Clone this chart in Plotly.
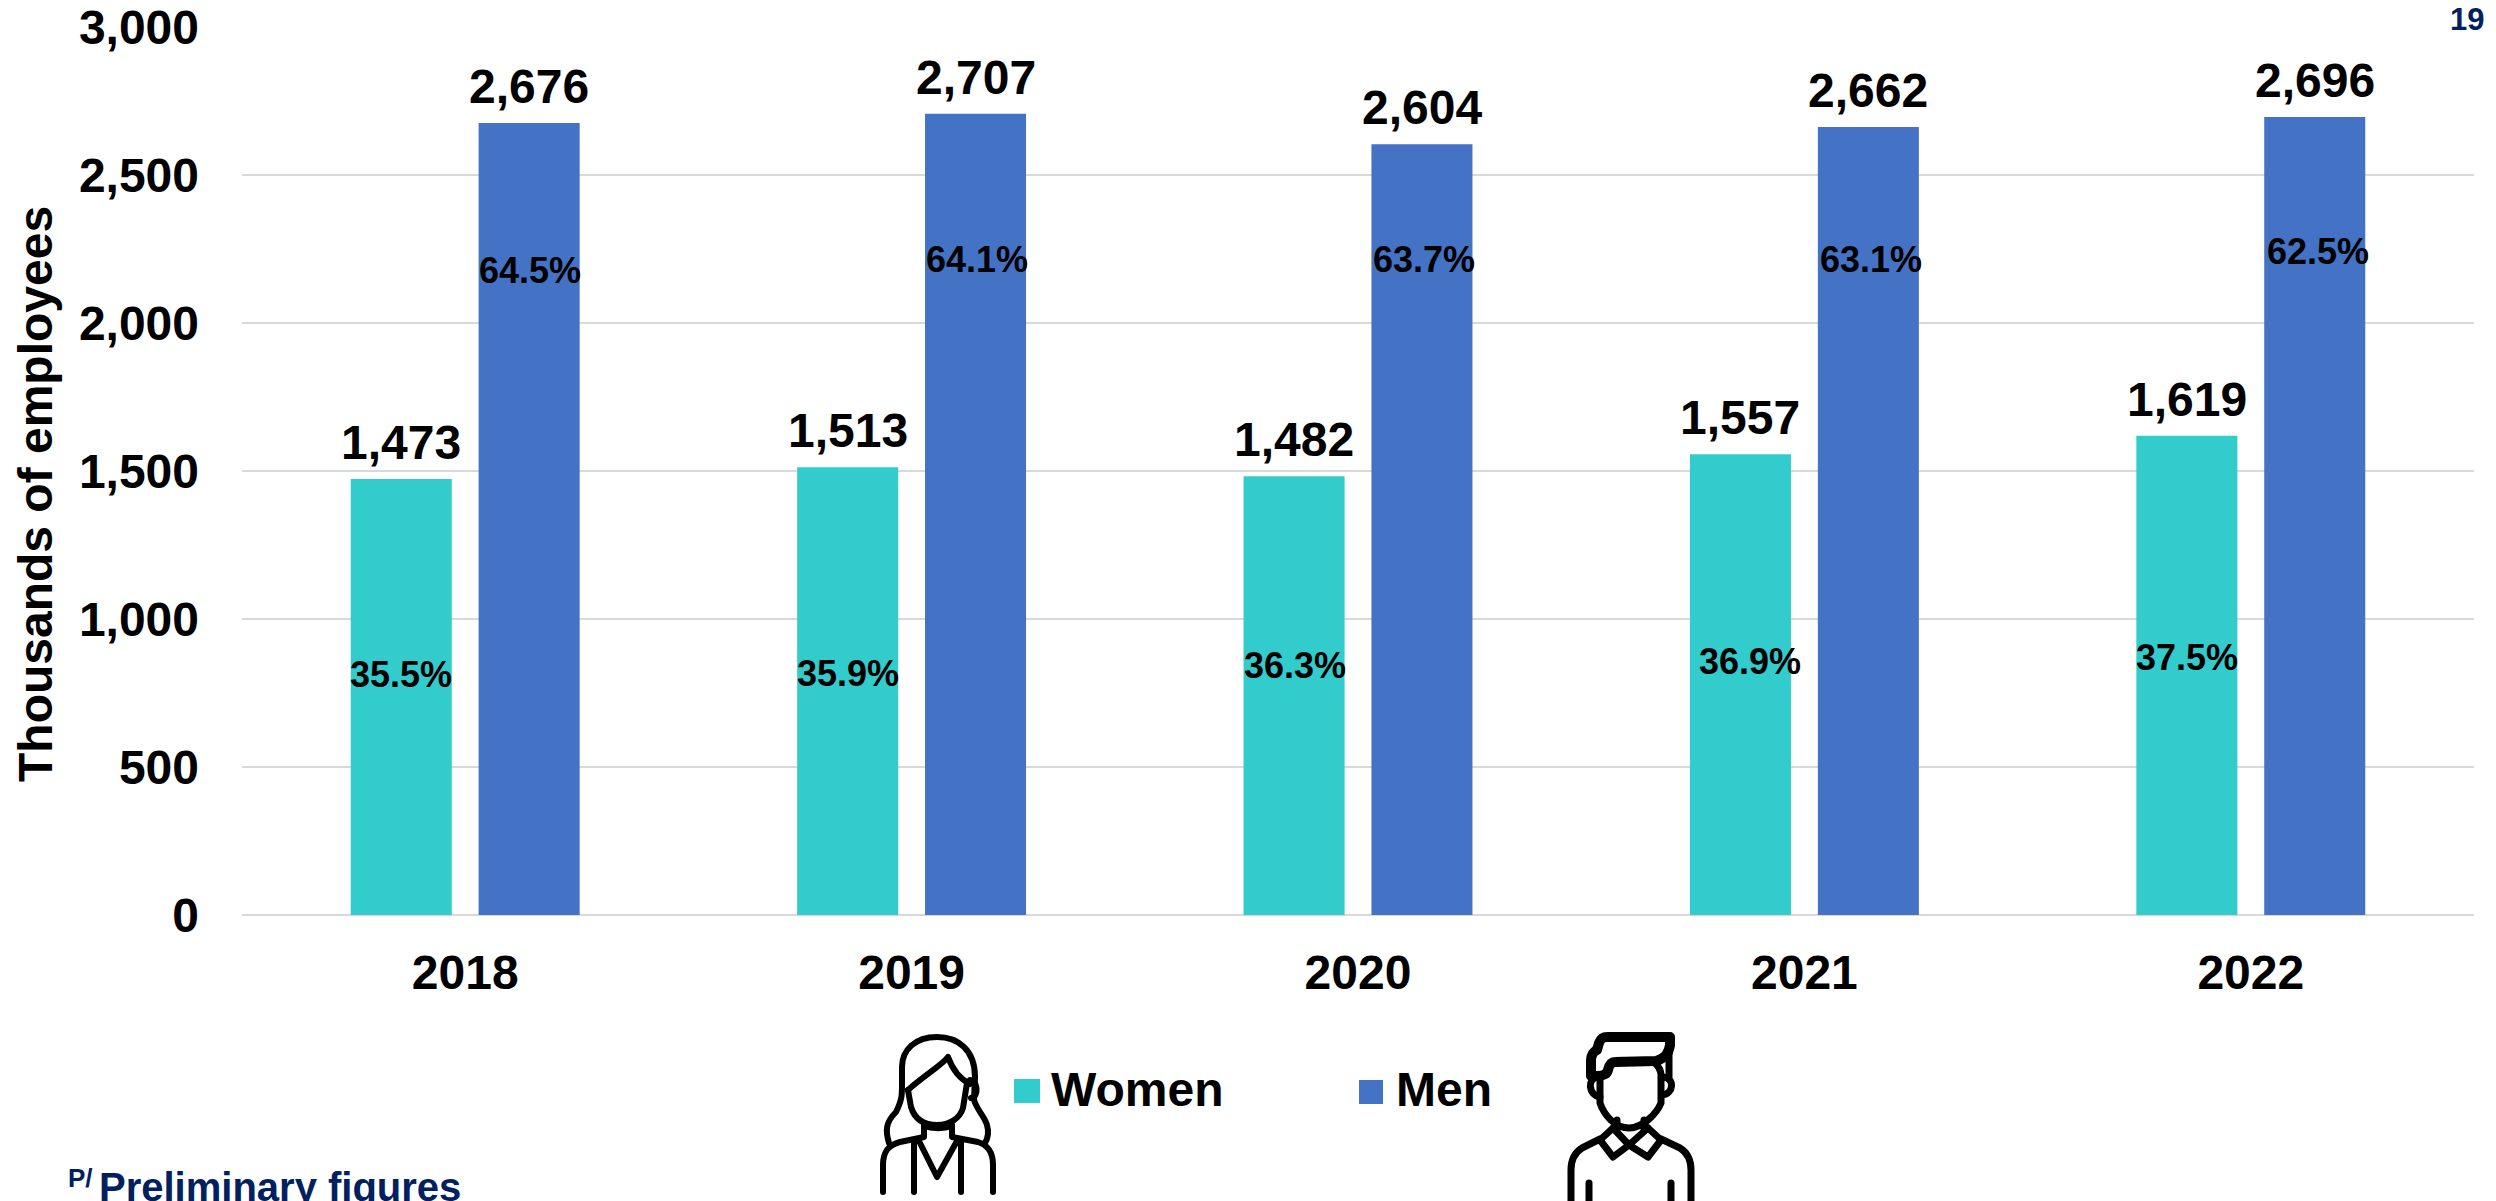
import base64
import plotly.graph_objects as go

years = ["2018", "2019", "2020", "2021", "2022"]
women = [1473, 1513, 1482, 1557, 1619]
men = [2676, 2707, 2604, 2662, 2696]
women_share = ["35.5%", "35.9%", "36.3%", "36.9%", "37.5%"]
men_share = ["64.5%", "64.1%", "63.7%", "63.1%", "62.5%"]
women_share_y = [812, 817, 844, 855, 871]
men_share_y = [2177, 2215, 2215, 2215, 2242]
women_share_dx = [0, 0, 1, 10, 0]
men_share_dx = [1, 1, 2, 3, 3]
y_ticks = [0, 500, 1000, 1500, 2000, 2500, 3000]

FONT = "Liberation Sans"
BLACK = "#000000"
NAVY = "#002060"
TEAL = "#33CCCC"
BLUE = "#4472C4"
GRID = "#D9D9D9"

L, R, T, B = 242, 2474, 27, 915
W, H = R - L, B - T


def px(x):
    return (x - L) / W


def py(y):
    return 1 - (y - T) / H


def svg_uri(x0, y0, w, h, body, sw):
    svg = (
        f'<svg xmlns="http://www.w3.org/2000/svg" width="{w}" height="{h}" '
        f'viewBox="{x0} {y0} {w} {h}"><g fill="none" stroke="#000" stroke-width="{sw}" '
        f'stroke-linecap="round" stroke-linejoin="round">{body}</g></svg>'
    )
    return "data:image/svg+xml;base64," + base64.b64encode(svg.encode()).decode()


woman_svg = """
<path d="M889 1143 C885 1130 886 1122 896 1112 C902 1100 902 1095 902 1085 L902 1067 C902 1050 915 1037 937 1037 C958 1037 975 1050 975 1077 L974 1100 C977 1110 985 1117 987 1125 C989 1132 988 1138 985 1143"/>
<path d="M908 1090 C925 1075 942 1065 948 1057 C952 1068 958 1078 970 1084"/>
<path d="M908 1090 L911 1107 C915 1120 925 1125 937 1125 C950 1125 960 1118 963 1108 L967 1083"/>
<path d="M970 1080 C977 1080 980 1096 971 1098"/>
<path d="M924 1125 L924 1137 L900 1142 C888 1145 883 1152 883 1165 L883 1192"/>
<path d="M952 1125 L952 1137 L978 1142 C988 1145 993 1152 993 1165 L993 1192"/>
<path d="M914 1142 L914 1192"/><path d="M961 1142 L961 1192"/>
<path d="M919 1141 L937 1177 L957 1141"/>
<path d="M924 1126 C932 1129 944 1129 952 1126"/>
"""
man_svg = """
<path stroke-width="10" d="M1597 1050 L1599 1043 C1601 1038 1603 1037 1607 1037 L1670 1037 L1670 1045 C1669 1052 1666 1058 1656 1061 L1615 1062 C1611 1062 1609 1066 1608 1070 C1607 1074 1603 1076 1598 1076 L1591 1076 L1591 1060 C1591 1055 1594 1051 1597 1050"/>
<path d="M1669 1053 L1669 1077"/><path d="M1656 1062 L1669 1053"/>
<path d="M1600 1076 L1600 1103 C1604 1115 1615 1128 1629 1128 C1643 1128 1657 1113 1661 1103 L1661 1075 C1661 1070 1658 1066 1655 1063"/>
<path d="M1598 1077 C1587 1078 1588 1095 1600 1097"/>
<path d="M1663 1077 C1675 1078 1674 1094 1662 1095"/>
<path d="M1613 1128 L1600 1140 L1613 1157 L1629 1145 L1648 1157 L1661 1140 L1648 1128"/>
<path d="M1613 1128 L1629 1145 L1648 1128"/>
<path d="M1617 1120 L1617 1130"/><path d="M1644 1120 L1644 1130"/>
<path d="M1600 1139 L1582 1148 C1574 1153 1571 1160 1571 1170 L1571 1210"/>
<path d="M1661 1139 L1680 1148 C1688 1153 1691 1160 1691 1170 L1691 1210"/>
<path d="M1589 1183 L1589 1210"/><path d="M1671 1183 L1671 1210"/>
"""

fig = go.Figure()
fig.add_bar(name="Women", x=years, y=women, marker=dict(color=TEAL, line=dict(width=0)))
fig.add_bar(name="Men", x=years, y=men, marker=dict(color=BLUE, line=dict(width=0)))

annotations = []
for i, yr in enumerate(years):
    for v, shift in ((women[i], -64), (men[i], 64)):
        annotations.append(dict(
            x=i, y=v, xref="x", yref="y", xshift=shift, yshift=8, yanchor="bottom",
            text=f"<b>{v:,}</b>", showarrow=False, font=dict(family=FONT, size=48, color=BLACK),
        ))
    for label, yv, shift in (
        (women_share[i], women_share_y[i], -64 + women_share_dx[i]),
        (men_share[i], men_share_y[i], 64 + men_share_dx[i]),
    ):
        annotations.append(dict(
            x=i, y=yv, xref="x", yref="y", xshift=shift, text=f"<b>{label}</b>", showarrow=False,
            font=dict(family=FONT, size=36, color=BLACK),
        ))


def page_text(x, y, text, size, color, xanchor="left", **kw):
    annotations.append(dict(
        x=px(x), y=py(y), xref="paper", yref="paper", text=f"<b>{text}</b>", showarrow=False,
        xanchor=xanchor, yanchor="middle", font=dict(family=FONT, size=size, color=color), **kw,
    ))


page_text(1049, 1089, "Women", 48, BLACK)
page_text(1394, 1089, "Men", 48, BLACK)
page_text(2486, 20, "19", 31, NAVY, "right")
page_text(66, 1178, "P/", 26, NAVY)
page_text(97, 1187, "Preliminary figures", 40, NAVY)
page_text(35, 494, "Thousands of employees", 48, BLACK, "center", textangle=-90)

shapes = [
    dict(type="rect", xref="paper", yref="paper", x0=px(1014), x1=px(1040), y0=py(1103), y1=py(1079),
         fillcolor=TEAL, line=dict(width=0)),
    dict(type="rect", xref="paper", yref="paper", x0=px(1359), x1=px(1383), y0=py(1104), y1=py(1080),
         fillcolor=BLUE, line=dict(width=0)),
]

images = [
    dict(source=svg_uri(875, 1030, 126, 171, woman_svg, 6), xref="paper", yref="paper",
         x=px(875), y=py(1030), sizex=126 / W, sizey=171 / H, xanchor="left", yanchor="top",
         sizing="stretch", layer="above"),
    dict(source=svg_uri(1560, 1030, 140, 171, man_svg, 7), xref="paper", yref="paper",
         x=px(1560), y=py(1030), sizex=140 / W, sizey=171 / H, xanchor="left", yanchor="top",
         sizing="stretch", layer="above"),
]

fig.update_layout(
    width=2496, height=1201, autosize=False,
    margin=dict(l=L, r=2496 - R, t=T, b=1201 - B, pad=0),
    paper_bgcolor="white", plot_bgcolor="white",
    barmode="group", bargap=0.427, bargroupgap=0.21,
    showlegend=False, annotations=annotations, shapes=shapes, images=images,
    font=dict(family=FONT, color=BLACK),
    xaxis=dict(
        type="category", range=[-0.5, 4.5], automargin=False, showgrid=False, zeroline=False, showline=False,
        ticks="", ticklabelstandoff=25,
        tickfont=dict(family=FONT, size=48, color=BLACK, weight="bold"),
    ),
    yaxis=dict(
        range=[0, 3000], tickvals=y_ticks, tickformat=",", automargin=False,
        showgrid=True, gridcolor=GRID, gridwidth=2, zeroline=True, zerolinecolor=GRID, zerolinewidth=2,
        showline=False, ticks="", ticklabelstandoff=42,
        tickfont=dict(family=FONT, size=48, color=BLACK, weight="bold"),
    ),
)

fig.write_html(
    "out.html", config=dict(displayModeBar=False),
    post_script="document.body.style.margin='0';document.body.style.overflow='hidden';",
)
